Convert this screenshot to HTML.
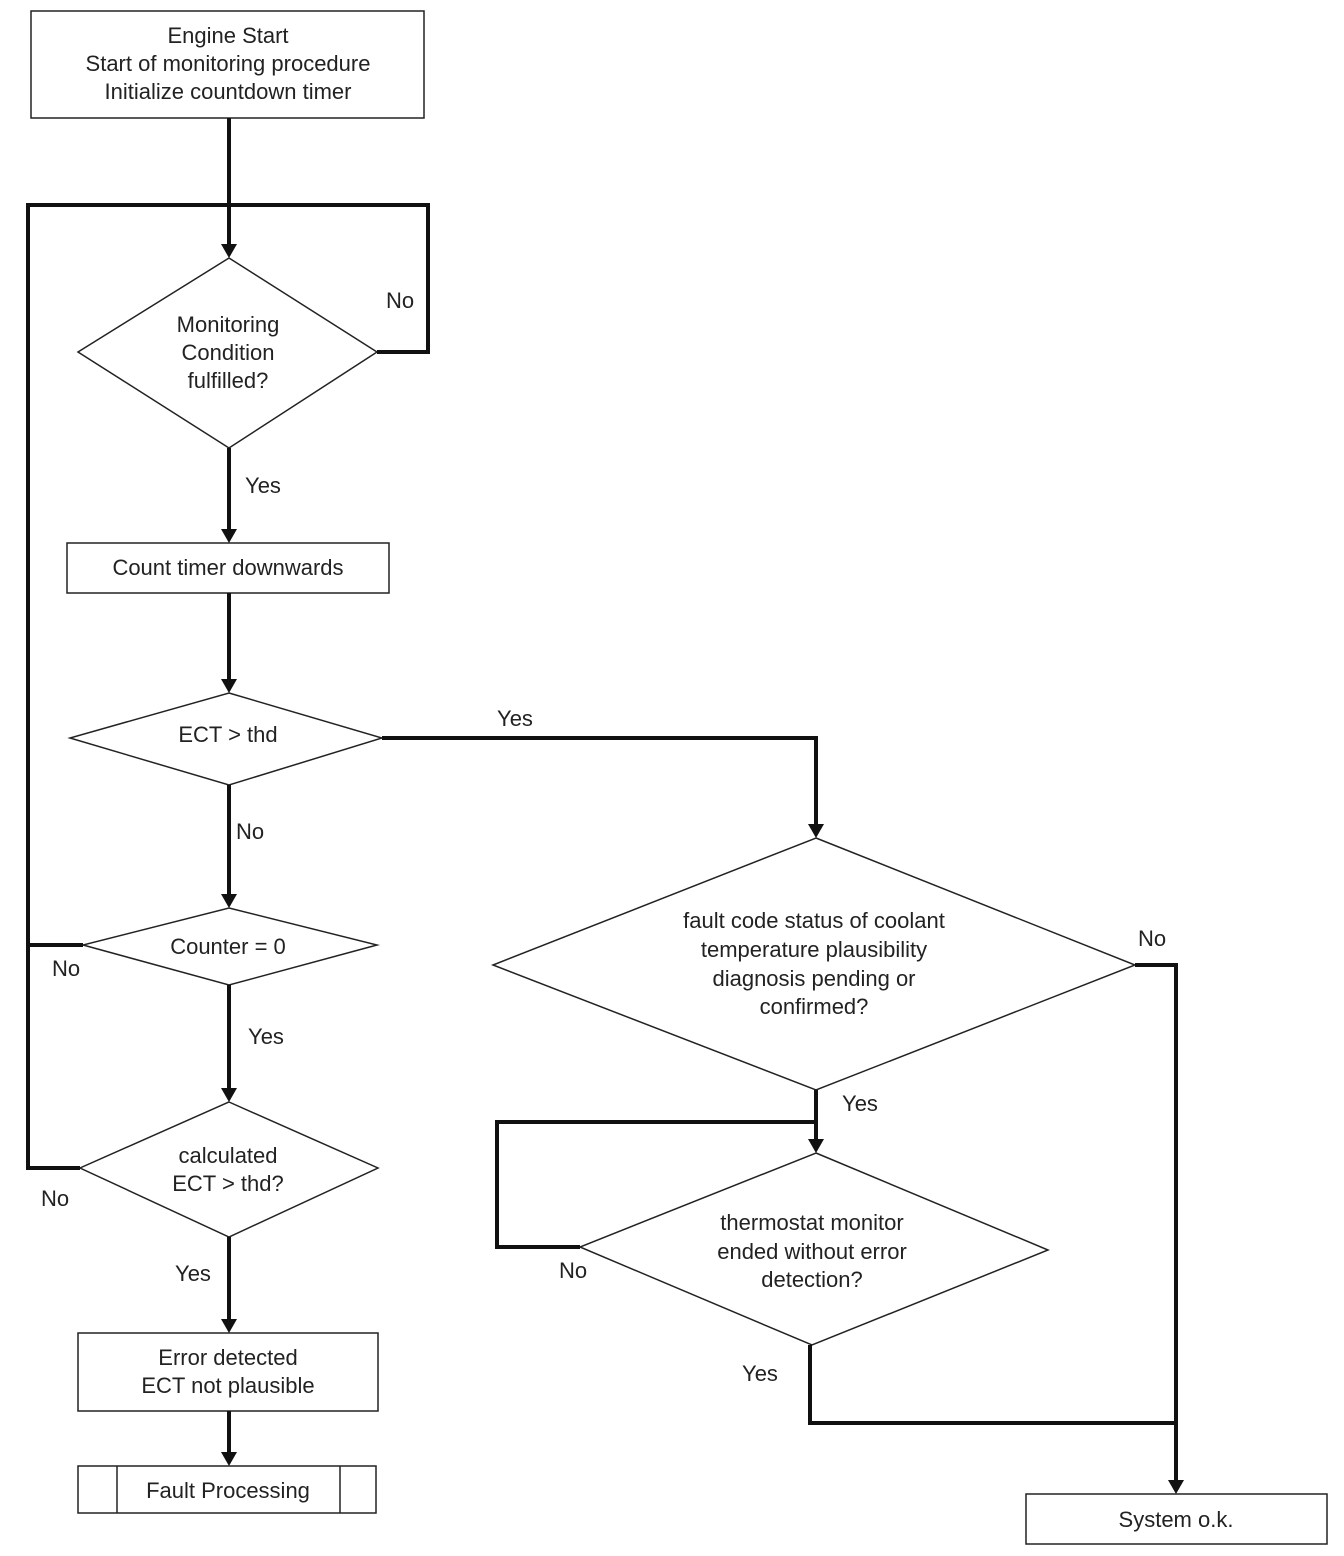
<!DOCTYPE html>
<html><head><style>
html,body{margin:0;padding:0;background:#fff;}
svg{display:block;}
text{font-family:"Liberation Sans",sans-serif;font-size:22px;fill:#222;text-anchor:middle;}
.s{fill:none;stroke:#222;stroke-width:1.5;}
.t{fill:none;stroke:#111;stroke-width:4;}
</style></head><body>
<svg width="1344" height="1556" viewBox="0 0 1344 1556" xmlns="http://www.w3.org/2000/svg">
<rect class="s" x="31" y="11" width="393" height="107"/>
<text x="228" y="43">Engine Start</text>
<text x="228" y="71">Start of monitoring procedure</text>
<text x="228" y="99">Initialize countdown timer</text>
<rect class="s" x="67" y="543" width="322" height="50"/>
<text x="228" y="575">Count timer downwards</text>
<rect class="s" x="78" y="1333" width="300" height="78"/>
<text x="228" y="1365">Error detected</text>
<text x="228" y="1393">ECT not plausible</text>
<rect class="s" x="78" y="1466" width="298" height="47"/>
<line class="s" x1="117" y1="1466" x2="117" y2="1513"/>
<line class="s" x1="340" y1="1466" x2="340" y2="1513"/>
<text x="228" y="1498">Fault Processing</text>
<rect class="s" x="1026" y="1494" width="301" height="50"/>
<text x="1176" y="1527">System o.k.</text>
<polygon class="s" points="229,258 377,352 229,448 78,352"/>
<text x="228" y="332">Monitoring</text>
<text x="228" y="360">Condition</text>
<text x="228" y="388">fulfilled?</text>
<polygon class="s" points="229,693 382,738 229,785 70,738"/>
<text x="228" y="742">ECT &gt; thd</text>
<polygon class="s" points="229,908 377,945 229,985 83,945"/>
<text x="228" y="954">Counter = 0</text>
<polygon class="s" points="229,1102 378,1168 229,1237 80,1168"/>
<text x="228" y="1163">calculated</text>
<text x="228" y="1191">ECT &gt; thd?</text>
<polygon class="s" points="816,838 1135,965 816,1090 493,965"/>
<text x="814" y="928">fault code status of coolant</text>
<text x="814" y="957">temperature plausibility</text>
<text x="814" y="986">diagnosis pending or</text>
<text x="814" y="1014">confirmed?</text>
<polygon class="s" points="816,1153 1048,1250 812,1345 580,1247"/>
<text x="812" y="1230">thermostat monitor</text>
<text x="812" y="1259">ended without error</text>
<text x="812" y="1287">detection?</text>
<polyline class="t" points="229,118 229,248"/>
<polyline class="t" points="377,352 428,352 428,205 28,205 28,1168 80,1168"/>
<line class="t" x1="28" y1="945" x2="83" y2="945"/>
<line class="t" x1="229" y1="448" x2="229" y2="533"/>
<line class="t" x1="229" y1="593" x2="229" y2="683"/>
<line class="t" x1="229" y1="785" x2="229" y2="898"/>
<line class="t" x1="229" y1="985" x2="229" y2="1092"/>
<line class="t" x1="229" y1="1237" x2="229" y2="1323"/>
<line class="t" x1="229" y1="1411" x2="229" y2="1456"/>
<polyline class="t" points="382,738 816,738 816,828"/>
<polyline class="t" points="1135,965 1176,965 1176,1484"/>
<line class="t" x1="816" y1="1090" x2="816" y2="1143"/>
<polyline class="t" points="816,1122 497,1122 497,1247 580,1247"/>
<polyline class="t" points="810,1345 810,1423 1176,1423"/>
<g fill="#111">
<polygon points="221,244 237,244 229,258"/>
<polygon points="221,529 237,529 229,543"/>
<polygon points="221,679 237,679 229,693"/>
<polygon points="221,894 237,894 229,908"/>
<polygon points="221,1088 237,1088 229,1102"/>
<polygon points="221,1319 237,1319 229,1333"/>
<polygon points="221,1452 237,1452 229,1466"/>
<polygon points="808,824 824,824 816,838"/>
<polygon points="808,1139 824,1139 816,1153"/>
<polygon points="1168,1480 1184,1480 1176,1494"/>
</g>
<text x="400" y="308">No</text>
<text x="263" y="493">Yes</text>
<text x="515" y="726">Yes</text>
<text x="250" y="839">No</text>
<text x="66" y="976">No</text>
<text x="266" y="1044">Yes</text>
<text x="55" y="1206">No</text>
<text x="193" y="1281">Yes</text>
<text x="1152" y="946">No</text>
<text x="860" y="1111">Yes</text>
<text x="573" y="1278">No</text>
<text x="760" y="1381">Yes</text>
</svg>
</body></html>
